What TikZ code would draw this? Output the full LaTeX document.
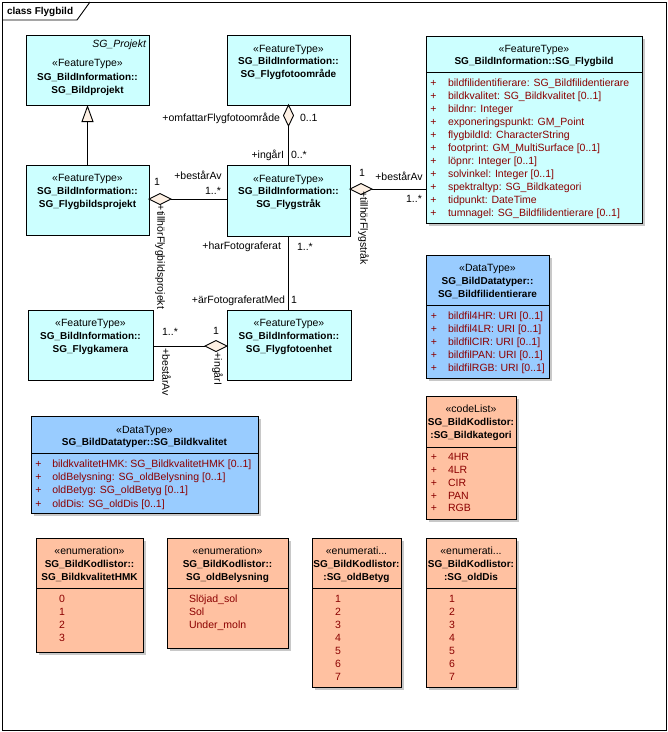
\documentclass[tikz,border=0pt]{standalone}
\usepackage{fontspec}
\setmainfont{Liberation Sans}
\usetikzlibrary{shapes.geometric,arrows.meta,shadows}
\definecolor{ftcyan}{HTML}{CCFFFF}
\definecolor{dtblue}{HTML}{99CCFF}
\definecolor{enumsal}{HTML}{FFC1A1}
\definecolor{attred}{HTML}{8B0000}
\definecolor{cream}{HTML}{FDF0E4}
\definecolor{shadowgray}{HTML}{C8C8C8}
\newcommand{\umlrg}{\fontsize{10.5}{12}\selectfont}
\newcommand{\umlbd}{\fontsize{10}{12}\selectfont\bfseries}
\begin{document}
\begin{tikzpicture}[x=1pt,y=-1pt,line width=0.9pt,
 box/.style={draw,anchor=north west,inner sep=0pt,outer sep=0pt},
 shad/.style={drop shadow={shadow xshift=3pt,shadow yshift=-3pt,fill=shadowgray,opacity=1}},
 t/.style={inner sep=0pt,outer sep=0pt,text height=7.5pt,text depth=0pt,font=\umlrg},
 tb/.style={t,font=\umlbd},
 ti/.style={t,font=\umlrg\itshape},
 attr/.style={t,anchor=west,text=attred},
 plus/.style={t,text=attred},
 dia/.style={diamond,draw,fill=cream,inner sep=0pt,outer sep=0pt}]
\useasboundingbox (0,0) rectangle (668,732);
% frame
\draw (2,2) rectangle (666,730);
\draw (2,20) -- (77,20) -- (90,2);
\node[tb,anchor=west] (title) at (7,11) {class Flygbild};
% boxes
\node[box,fill=ftcyan,minimum width=123pt,minimum height=70pt] (bildprojekt) at (26,35) {};
\node[box,fill=ftcyan,minimum width=123pt,minimum height=70pt] (flygbildsprojekt) at (26,165) {};
\node[box,fill=ftcyan,minimum width=123pt,minimum height=70pt] (flygfotoomrade) at (227,35) {};
\node[box,fill=ftcyan,minimum width=123pt,minimum height=71pt] (flygstrak) at (227,165) {};
\node[box,shad,fill=ftcyan,minimum width=216pt,minimum height=187pt] (flygbild) at (426,36) {};
\node[box,fill=ftcyan,minimum width=125pt,minimum height=70pt] (flygkamera) at (28,310) {};
\node[box,fill=ftcyan,minimum width=124pt,minimum height=70pt] (flygfotoenhet) at (227,310) {};
\node[box,shad,fill=dtblue,minimum width=123pt,minimum height=123pt] (bildfilid) at (426,255) {};
\node[box,shad,fill=dtblue,minimum width=227pt,minimum height=97pt] (bildkvalitet) at (31,416) {};
\node[box,shad,fill=enumsal,minimum width=90pt,minimum height=123pt] (bildkategori) at (426,396) {};
\node[box,shad,fill=enumsal,minimum width=107pt,minimum height=114pt] (hmk) at (36,538) {};
\node[box,shad,fill=enumsal,minimum width=121pt,minimum height=110pt] (belysning) at (167,538) {};
\node[box,shad,fill=enumsal,minimum width=89pt,minimum height=149pt] (betyg) at (312,538) {};
\node[box,shad,fill=enumsal,minimum width=90pt,minimum height=149pt] (dis) at (426,538) {};
% dividers
\draw (426,72) -- (642,72);
\draw (426,305) -- (549,305);
\draw (31,453) -- (258,453);
\draw (426,447) -- (516,447);
\draw (36,588) -- (143,588);
\draw (167,588) -- (288,588);
\draw (312,588) -- (401,588);
\draw (426,588) -- (516,588);
% headers
\node[ti,anchor=east] at (146,44) {SG\_Projekt};
\node[t] at (87.5,63) {«FeatureType»};
\node[tb] at (87.5,77) {SG\_BildInformation::};
\node[tb] at (87.5,90) {SG\_Bildprojekt};
\node[t] at (87.5,178) {«FeatureType»};
\node[tb] at (87.5,191) {SG\_BildInformation::};
\node[tb] at (87.5,203.5) {SG\_Flygbildsprojekt};
\node[t] at (288.5,48.5) {«FeatureType»};
\node[tb] at (288.5,61) {SG\_BildInformation::};
\node[tb] at (288.5,74) {SG\_Flygfotoområde};
\node[t] at (288.5,178.5) {«FeatureType»};
\node[tb] at (288.5,191) {SG\_BildInformation::};
\node[tb] at (288.5,203.5) {SG\_Flygstråk};
\node[t] at (534,49) {«FeatureType»};
\node[tb] at (534,61) {SG\_BildInformation::SG\_Flygbild};
\node[t] at (90.5,323) {«FeatureType»};
\node[tb] at (90.5,336) {SG\_BildInformation::};
\node[tb] at (90.5,349) {SG\_Flygkamera};
\node[t] at (289,323) {«FeatureType»};
\node[tb] at (289,336) {SG\_BildInformation::};
\node[tb] at (289,349) {SG\_Flygfotoenhet};
\node[t] at (487.5,267.5) {«DataType»};
\node[tb] at (487.5,281) {SG\_BildDatatyper::};
\node[tb] at (487.5,293.5) {SG\_Bildfilidentierare};
\node[t] at (144.5,429.5) {«DataType»};
\node[tb] at (144.5,442) {SG\_BildDatatyper::SG\_Bildkvalitet};
\node[t] at (471,408.5) {«codeList»};
\node[tb] at (471,422) {SG\_BildKodlistor:};
\node[tb] at (471,435) {:SG\_Bildkategori};
\node[t] at (89.5,551) {«enumeration»};
\node[tb] at (89.5,564) {SG\_BildKodlistor::};
\node[tb] at (89.5,577) {SG\_BildkvalitetHMK};
\node[t] at (227.5,551) {«enumeration»};
\node[tb] at (227.5,564) {SG\_BildKodlistor::};
\node[tb] at (227.5,577) {SG\_oldBelysning};
\node[t] at (356.5,551) {«enumerati...};
\node[tb] at (356.5,564) {SG\_BildKodlistor:};
\node[tb] at (356.5,577) {:SG\_oldBetyg};
\node[t] at (471,551) {«enumerati...};
\node[tb] at (471,564) {SG\_BildKodlistor:};
\node[tb] at (471,577) {:SG\_oldDis};
% attributes
\foreach \txt [count=\i from 0] in {{bildfilidentifierare: SG\_Bildfilidentierare},{bildkvalitet: SG\_Bildkvalitet [0..1]},{bildnr: Integer},{exponeringspunkt: GM\_Point},{flygbildId: CharacterString},{footprint: GM\_MultiSurface [0..1]},{löpnr: Integer [0..1]},{solvinkel: Integer [0..1]},{spektraltyp: SG\_Bildkategori},{tidpunkt: DateTime},{tumnagel: SG\_Bildfilidentierare [0..1]}}{
 \node[plus] at (433.5,83+12.95*\i) {+};
 \node[attr] at (448,83+12.95*\i) {\txt};
}
\foreach \txt [count=\i from 0] in {{bildfil4HR: URI [0..1]},{bildfil4LR: URI [0..1]},{bildfilCIR: URI [0..1]},{bildfilPAN: URI [0..1]},{bildfilRGB: URI [0..1]}}{
 \node[plus] at (434,316+13*\i) {+};
 \node[attr] at (448,316+13*\i) {\txt};
}
\foreach \txt [count=\i from 0] in {{bildkvalitetHMK: SG\_BildkvalitetHMK [0..1]},{oldBelysning: SG\_oldBelysning [0..1]},{oldBetyg: SG\_oldBetyg [0..1]},{oldDis: SG\_oldDis [0..1]}}{
 \node[plus] at (38.5,464+13.1*\i) {+};
 \node[attr] at (52.3,464+13.1*\i) {\txt};
}
\foreach \txt [count=\i from 0] in {4HR,4LR,CIR,PAN,RGB}{
 \node[plus] at (434,457+12.8*\i) {+};
 \node[attr] at (448,457+12.8*\i) {\txt};
}
\foreach \txt [count=\i from 0] in {0,1,2,3}{
 \node[attr] at (59,599+12.95*\i) {\txt};
}
\foreach \txt [count=\i from 0] in {{Slöjad\_sol},Sol,{Under\_moln}}{
 \node[attr] at (189,599+12.95*\i) {\txt};
}
\foreach \txt [count=\i from 0] in {1,2,3,4,5,6,7}{
 \node[attr] at (335,599+12.95*\i) {\txt};
 \node[attr] at (449,599+12.95*\i) {\txt};
}
% connectors
\draw[-{Triangle[width=12pt,length=17pt,fill=cream]}] (flygbildsprojekt.north) -- (bildprojekt.south);
\node[dia,minimum width=10pt,minimum height=21pt,anchor=north] (dOmr) at (flygfotoomrade.south) {};
\draw (dOmr.south) -- (flygstrak.north);
\node[dia,minimum width=22pt,minimum height=11pt,anchor=west] (dFbp) at ([yshift=1pt]flygbildsprojekt.east) {};
\draw (dFbp.east) -- (dFbp.east -| flygstrak.west);
\node[dia,minimum width=22pt,minimum height=11pt,anchor=west] (dFs) at ([yshift=11.5pt]flygstrak.east) {};
\draw (dFs.east) -- (dFs.east -| flygbild.west);
\draw (flygstrak.south) -- (flygstrak.south |- flygfotoenhet.north);
\node[dia,minimum width=22pt,minimum height=11pt,anchor=east] (dFe) at ([yshift=-1pt]flygfotoenhet.west) {};
\draw (dFe.west) -- (dFe.west -| flygkamera.east);
% labels
\node[t,anchor=east] (l1) at (280,117.5) {+omfattarFlygfotoområde};
\node[t,anchor=west] (l2) at (300,117.5) {0..1};
\node[t,anchor=east] (l3) at (284,154.5) {+ingårI};
\node[t,anchor=west] (l4) at (291,154.5) {0..*};
\node[t] (l5) at (157,182) {1};
\node[t] (l6) at (198,176) {+bestårAv};
\node[t] (l7) at (213,191) {1..*};
\node[t,rotate=-90] (l8) at (161,257) {+tillhörFlygbildsprojekt};
\node[t] (l9) at (362,173) {1};
\node[t] (l10) at (399,177) {+bestårAv};
\node[t] (l11) at (414,199) {1..*};
\node[t,rotate=-90] (l12) at (364,228) {+tillhörFlygstråk};
\node[t,anchor=east] (l13) at (281,246) {+harFotograferat};
\node[t,anchor=west] (l14) at (297,247) {1..*};
\node[t,anchor=east] (l15) at (285,300) {+ärFotograferatMed};
\node[t,anchor=west] (l16) at (291,300) {1};
\node[t] (l17) at (170,332) {1..*};
\node[t] (l18) at (216,331) {1};
\node[t,rotate=-90] (l19) at (166,372) {+bestårAv};
\node[t,rotate=-90] (l20) at (218,369) {+ingårI};
\end{tikzpicture}
\end{document}
